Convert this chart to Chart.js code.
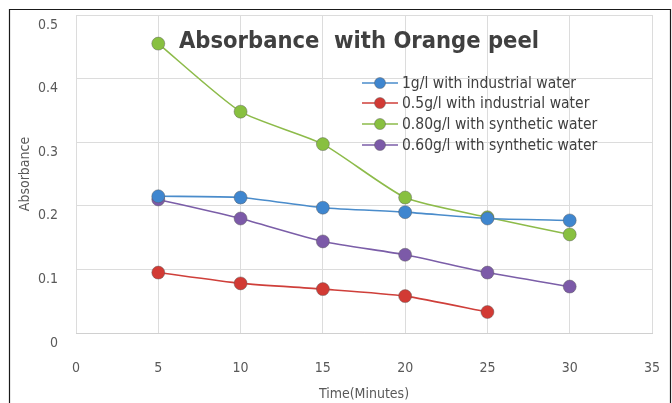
<!DOCTYPE html>
<html>
<head>
<meta charset="utf-8">
<script src="https://cdn.jsdelivr.net/npm/chart.js@4"></script>
<style>
  html, body { margin: 0; padding: 0; background: #ffffff; }
  #wrap { position: relative; width: 672px; height: 403px; }
  canvas { display: block; }
</style>
</head>
<body>
<div id="wrap"><canvas id="c" width="672" height="403"></canvas></div>
<script>
// Contact time in minutes
const times = [5, 10, 15, 20, 25, 30];

// Absorbance readings per adsorbent dose / water type
const industrial1g   = [0.215, 0.213, 0.197, 0.190, 0.180, 0.177];
const industrial05g  = [0.095, 0.078, 0.069, 0.058, 0.033];
const synthetic080g  = [0.455, 0.348, 0.297, 0.213, 0.182, 0.155];
const synthetic060g  = [0.210, 0.180, 0.144, 0.123, 0.095, 0.073];

const seriesNames = [
  '1g/l with industrial water',
  '0.5g/l with industrial water',
  '0.80g/l with synthetic water',
  '0.60g/l with synthetic water'
];
const seriesColors = ['#4a8ccb', '#cf3f3a', '#8dbb4a', '#7b5ea8'];
const markerColors = ['#3f86cf', '#d23a34', '#88c040', '#7c5aa8'];

const xTicks = [0, 5, 10, 15, 20, 25, 30, 35];
const yTicks = [0, 0.1, 0.2, 0.3, 0.4, 0.5];

const chartTitle = 'Absorbance  with Orange peel';
const xTitle = 'Time(Minutes)';
const yTitle = 'Absorbance';

const FONT = "'DejaVu Sans Condensed', 'Open Sans', sans-serif";

function toPoints(values) {
  return values.map((v, i) => ({ x: times[i], y: v }));
}

const seriesValues = [industrial1g, industrial05g, synthetic080g, synthetic060g];

const datasets = seriesValues.map((vals, i) => ({
  label: seriesNames[i],
  data: toPoints(vals),
  borderColor: seriesColors[i],
  backgroundColor: markerColors[i],
  pointBackgroundColor: markerColors[i],
  pointBorderColor: 'rgba(90,90,90,0.45)',
  pointBorderWidth: 1,
  pointRadius: 6.5,
  borderWidth: 1.6,
  tension: 0.2,
  fill: false
}));

// Title, legend and outer frame drawn on top of the plot
const overlay = {
  id: 'overlay',
  afterDraw(chart) {
    const ctx = chart.ctx;
    ctx.save();
    // outer frame
    ctx.strokeStyle = '#1a1a1a';
    ctx.lineWidth = 1.2;
    ctx.beginPath();
    ctx.moveTo(9.5, 410);
    ctx.lineTo(9.5, 9.5);
    ctx.lineTo(670.5, 9.5);
    ctx.lineTo(670.5, 410);
    ctx.stroke();

    // title
    ctx.fillStyle = '#404040';
    ctx.font = "bold 23.5px " + FONT;
    ctx.textAlign = 'center';
    ctx.textBaseline = 'middle';
    ctx.fillText(chartTitle, 359, 42);

    // legend
    const rowY = [83, 103, 124, 145];
    ctx.font = "15.5px " + FONT;
    ctx.textAlign = 'left';
    chart.data.datasets.forEach((ds, i) => {
      const y = rowY[i];
      ctx.strokeStyle = ds.borderColor;
      ctx.lineWidth = 1.6;
      ctx.beginPath();
      ctx.moveTo(362, y);
      ctx.lineTo(398, y);
      ctx.stroke();
      ctx.beginPath();
      ctx.arc(380, y, 5.5, 0, Math.PI * 2);
      ctx.fillStyle = ds.pointBackgroundColor;
      ctx.fill();
      ctx.strokeStyle = 'rgba(90,90,90,0.45)';
      ctx.lineWidth = 1;
      ctx.stroke();
      ctx.fillStyle = '#404040';
      ctx.fillText(ds.label, 402, y + 1);
    });
    ctx.restore();
  }
};

new Chart(document.getElementById('c'), {
  type: 'line',
  data: { datasets },
  options: {
    responsive: false,
    animation: false,
    devicePixelRatio: 1,
    layout: { padding: { left: 0, top: 15, right: 20, bottom: 0 } },
    plugins: {
      legend: { display: false },
      title: { display: false },
      tooltip: { enabled: false }
    },
    scales: {
      x: {
        type: 'linear',
        min: 0,
        max: 35,
        afterBuildTicks(scale) { scale.ticks = xTicks.map(v => ({ value: v })); },
        afterFit(scale) {
          scale.height = 70;
          scale.paddingLeft = 0;
          scale.paddingRight = 0;
        },
        grid: { color: '#dcdcdc', drawTicks: false },
        border: { display: true, color: '#d0d0d0' },
        ticks: {
          padding: 27,
          color: '#595959',
          font: { family: FONT, size: 14 },
          maxRotation: 0,
          callback: v => String(v)
        },
        title: {
          display: true,
          text: xTitle,
          color: '#595959',
          font: { family: FONT, size: 14 },
          padding: { top: 0, bottom: 0 }
        }
      },
      y: {
        min: 0,
        max: 0.5,
        afterBuildTicks(scale) { scale.ticks = yTicks.map(v => ({ value: v })); },
        afterFit(scale) {
          scale.width = 76;
          scale.paddingTop = 0;
          scale.paddingBottom = 0;
        },
        grid: { color: '#dcdcdc', drawTicks: false },
        border: { display: false },
        ticks: {
          padding: 18,
          labelOffset: 10,
          color: '#595959',
          font: { family: FONT, size: 14 },
          callback: v => (v === 0 ? '0' : v.toFixed(1))
        },
        title: {
          display: true,
          text: yTitle,
          color: '#595959',
          font: { family: FONT, size: 14 },
          padding: { top: 17, bottom: 0 }
        }
      }
    }
  },
  plugins: [overlay]
});
</script>
</body>
</html>
